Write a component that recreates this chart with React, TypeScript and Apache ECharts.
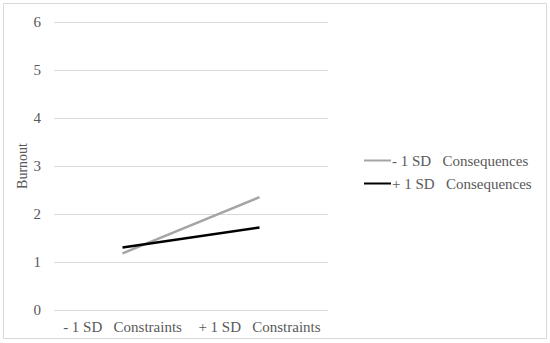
import React, { useEffect, useRef } from "react";
import * as echarts from "echarts";

const categories = ["- 1 SD   Constraints", "+ 1 SD   Constraints"];
const lowConsequences = [1.18, 2.35];
const highConsequences = [1.3, 1.72];
const seriesNames = ["- 1 SD   Consequences", "+ 1 SD   Consequences"];
const yTicks = { min: 0, max: 6, interval: 1 };

export default function App() {
  const ref = useRef<HTMLDivElement>(null);
  useEffect(() => {
    if (!ref.current) return;
    const chart = echarts.init(ref.current, null, { renderer: "svg" });
    const font = "Liberation Serif";
    const textColor = "#595959";
    chart.setOption({
      animation: false,
      backgroundColor: "#ffffff",
      textStyle: { fontFamily: font },
      graphic: [
        {
          type: "rect",
          shape: { x: 3.5, y: 3.5, width: 543, height: 335 },
          style: { fill: "none", stroke: "#d9d9d9", lineWidth: 1 },
          silent: true,
        },
      ],
      grid: { left: 54, right: 222, top: 22, bottom: 33 },
      legend: {
        orient: "vertical",
        left: 359,
        top: 148,
        itemWidth: 27,
        itemHeight: 10,
        itemGap: 8,
        icon: "path://M0,4 L27,4 L27,6 L0,6 Z",
        textStyle: { color: textColor, fontSize: 15, fontFamily: font, padding: [0, 0, 0, -4] },
        data: seriesNames,
      },
      xAxis: {
        type: "category",
        data: categories,
        boundaryGap: true,
        axisLine: { show: false },
        axisTick: { show: false },
        axisLabel: { color: textColor, fontSize: 15, fontFamily: font, margin: 9, interval: 0 },
      },
      yAxis: {
        type: "value",
        min: yTicks.min,
        max: yTicks.max,
        interval: yTicks.interval,
        name: "Burnout",
        nameLocation: "middle",
        nameGap: 25,
        nameRotate: 90,
        nameTextStyle: { color: textColor, fontSize: 14, fontFamily: font },
        axisLine: { show: false },
        axisTick: { show: false },
        axisLabel: { color: textColor, fontSize: 15, fontFamily: font, margin: 13 },
        splitLine: { lineStyle: { color: "#d9d9d9", width: 1 } },
      },
      series: [
        {
          name: seriesNames[0],
          type: "line",
          data: lowConsequences,
          symbol: "none",
          lineStyle: { color: "#a5a5a5", width: 2.5 },
          itemStyle: { color: "#a5a5a5" },
        },
        {
          name: seriesNames[1],
          type: "line",
          data: highConsequences,
          symbol: "none",
          lineStyle: { color: "#000000", width: 2.5 },
          itemStyle: { color: "#000000" },
        },
      ],
    });
    return () => chart.dispose();
  }, []);
  return (
    <div
      ref={ref}
      style={{ position: "fixed", left: 0, top: 0, width: 550, height: 343 }}
    />
  );
}
